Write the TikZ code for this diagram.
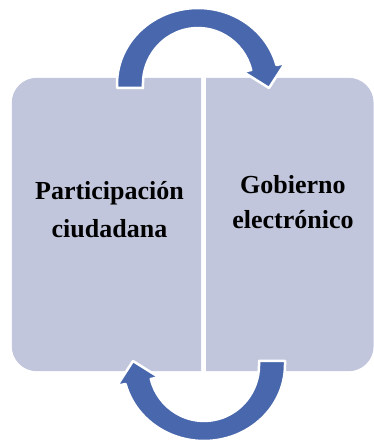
\documentclass[tikz,border=0pt]{standalone}
\usepackage{fontspec}
\setmainfont{Liberation Serif}
\usetikzlibrary{positioning}
\definecolor{cajafondo}{RGB}{194,198,220}
\definecolor{flechaazul}{RGB}{72,103,173}
\tikzset{
    caja/.style={rectangle, minimum height=293pt, inner sep=0pt},
    texto/.style={align=center, inner sep=0pt, font=\bfseries\fontsize{26}{#1}\selectfont},
    flecha/.style={fill=flechaazul, draw=white, line width=2.5pt, line join=round},
}
\begin{document}
\begin{tikzpicture}[x=1pt, y=1pt]
    \useasboundingbox (0,0) rectangle (374,440);
    % Two halves of the cycle
    \node[caja, minimum width=189pt] (pc) at (106.5,215.5) {};
    \node[caja, minimum width=167pt, right=5pt of pc] (ge) {};
    \fill[cajafondo] (pc.north east) -- ([xshift=25pt]pc.north west)
        arc[start angle=90, end angle=180, radius=25]
        -- ([yshift=25pt]pc.south west)
        arc[start angle=180, end angle=270, radius=25] -- (pc.south east) -- cycle;
    \fill[cajafondo] (ge.north west) -- ([xshift=-25pt]ge.north east)
        arc[start angle=90, end angle=0, radius=25]
        -- ([yshift=25pt]ge.south east)
        arc[start angle=0, end angle=-90, radius=25] -- (ge.south west) -- cycle;
    \node[texto=38pt] (pctexto) at ([xshift=3pt, yshift=15pt]pc.center) {Participación\\ciudadana};
    \node[texto=35pt] (getexto) at ([xshift=3pt, yshift=22pt]ge.center) {Gobierno\\electrónico};
    % Curved arrows between the halves
    \coordinate (arriba) at (198,356);
    \coordinate (abajo) at (204,75);
    \foreach \centro/\giro in {arriba/0, abajo/180} {
        \begin{scope}[shift={(\centro)}, rotate=\giro]
            \filldraw[flecha] (-81,-4) -- (-81,0)
                arc[start angle=180, end angle=14.5, x radius=81, y radius=76]
                -- (87,20.8) -- (71,-4) -- (45,12.3) -- (53.2,14)
                arc[start angle=14.5, end angle=180, x radius=55, y radius=56]
                -- (-55,-4) -- cycle;
        \end{scope}
    }
\end{tikzpicture}
\end{document}
